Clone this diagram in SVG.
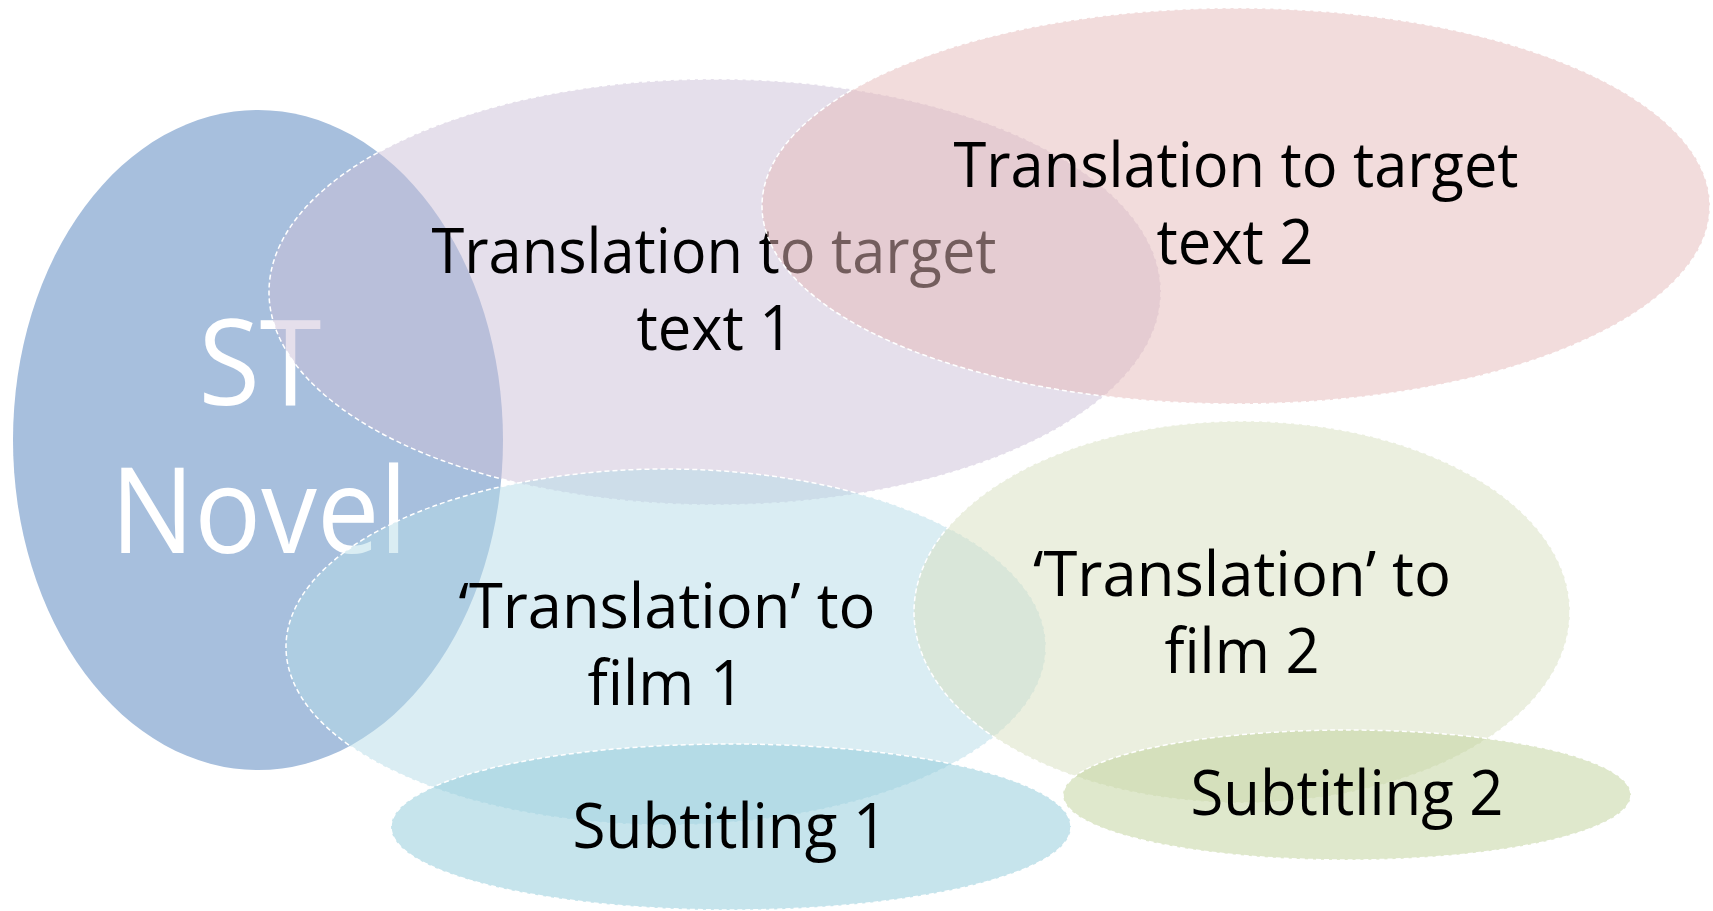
<svg xmlns="http://www.w3.org/2000/svg" width="1713" height="911" viewBox="0 0 1713 911">
<style>
.bub{stroke:#ffffff;stroke-width:1.5;stroke-dasharray:5 3;fill-opacity:0.5}
.t{font-family:"Open Sans","Liberation Sans",sans-serif;font-size:62px;fill:#000;text-anchor:middle}
.st{font-family:"Open Sans","Liberation Sans",sans-serif;font-size:119px;fill:#fff;text-anchor:middle}
</style>
<rect width="1713" height="911" fill="#ffffff"/>
<g id="st-novel">
<ellipse cx="258" cy="440" rx="245" ry="330" fill="#a7bfdd"/>
<text class="st" x="260" y="405" textLength="123" lengthAdjust="spacingAndGlyphs">ST</text>
<text class="st" x="259" y="553" textLength="297" lengthAdjust="spacingAndGlyphs">Novel</text>
</g>
<g id="target-text-1">
<ellipse class="bub" cx="715" cy="292" rx="446" ry="213" fill="#cbbfd7"/>
<text class="t" x="714" y="273" textLength="565" lengthAdjust="spacingAndGlyphs">Translation to target</text>
<text class="t" x="715" y="350" textLength="157" lengthAdjust="spacingAndGlyphs">text 1</text>
</g>
<g id="target-text-2">
<ellipse class="bub" cx="1236" cy="206" rx="474" ry="198" fill="#e5b9b9"/>
<text class="t" x="1236" y="187" textLength="565" lengthAdjust="spacingAndGlyphs">Translation to target</text>
<text class="t" x="1235" y="264" textLength="157" lengthAdjust="spacingAndGlyphs">text 2</text>
</g>
<g id="film-1">
<ellipse class="bub" cx="666" cy="647" rx="380" ry="178" fill="#b5dbe7"/>
<text class="t" x="667" y="628" textLength="417" lengthAdjust="spacingAndGlyphs">‘Translation’ to</text>
<text class="t" x="666" y="705" textLength="157" lengthAdjust="spacingAndGlyphs">film 1</text>
</g>
<g id="film-2">
<ellipse class="bub" cx="1242" cy="612" rx="328" ry="191" fill="#d7dfbf"/>
<text class="t" x="1242" y="596" textLength="418" lengthAdjust="spacingAndGlyphs">‘Translation’ to</text>
<text class="t" x="1242" y="673" textLength="155" lengthAdjust="spacingAndGlyphs">film 2</text>
</g>
<g id="subtitling-1">
<ellipse class="bub" cx="731" cy="827" rx="340" ry="83" fill="#8dc9d9"/>
<text class="t" x="730" y="848" textLength="315" lengthAdjust="spacingAndGlyphs">Subtitling 1</text>
</g>
<g id="subtitling-2">
<ellipse class="bub" cx="1347" cy="795" rx="284" ry="65" fill="#bfd199"/>
<text class="t" x="1347" y="815" textLength="313" lengthAdjust="spacingAndGlyphs">Subtitling 2</text>
</g>
<g id="connectors"></g>
</svg>
